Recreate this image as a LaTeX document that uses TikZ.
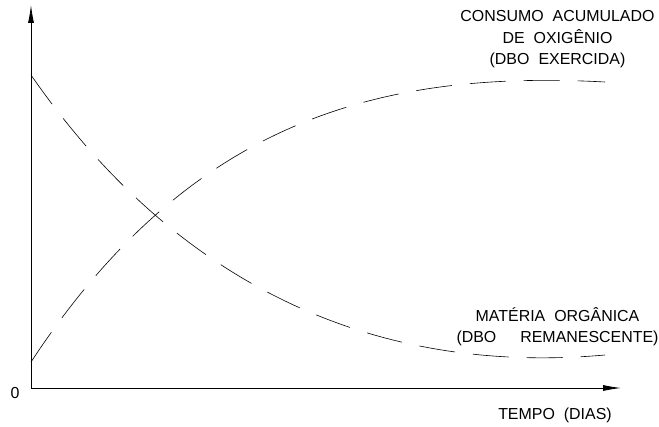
\documentclass[tikz,border=0pt]{standalone}
\usepackage{fontspec}
\setmainfont{Liberation Sans}
\usetikzlibrary{arrows.meta}
\begin{document}
\begin{tikzpicture}[>={Latex[length=18bp,width=6bp]},line join=bevel,
  curva/.style={line width=0.6bp,dash pattern=on 36bp off 18bp},
  eixo/.style={line width=0.8bp,->},
  rotulo/.style={inner sep=0pt,font=\fontsize{16}{21.5}\selectfont,align=center}]
%%
\useasboundingbox (0bp,0bp) rectangle (659bp,427bp);
  \coordinate (O) at (31.0bp,39.0bp);
  \coordinate (Ytop) at (31.0bp,422.0bp);
  \coordinate (Xend) at (621.0bp,39.0bp);
  \coordinate (MOini) at (31.0bp,352.0bp);
  \coordinate (MOfim) at (605.0bp,72.0bp);
  \coordinate (DBOini) at (31.0bp,65.0bp);
  \coordinate (DBOfim) at (605.0bp,345.0bp);
  \node (zero) at (15.0bp,34.0bp) [rotulo] {0};
  \node (DBOex) at (557.5bp,387.5bp) [rotulo] {CONSUMO\hspace{9bp}ACUMULADO\\DE\hspace{9bp}OXIGÊNIO\\(DBO\hspace{9bp}EXERCIDA)};
  \node (MatOrg) at (557.5bp,100.5bp) [rotulo] {MATÉRIA\hspace{9bp}ORGÂNICA\\(DBO\hspace{24bp}REMANESCENTE)};
  \node (tempo) at (555.0bp,12.0bp) [rotulo] {TEMPO\hspace{9bp}(DIAS)};
  \draw [eixo] (O) -- (Ytop);
  \draw [eixo] (O) -- (Xend);
  \draw [curva] (MOini) ..controls (180.0bp,137.0bp) and (380.0bp,52.0bp)  .. (MOfim);
  \draw [curva] (DBOini) ..controls (190.0bp,307.0bp) and (380.0bp,357.0bp)  .. (DBOfim);
%
\end{tikzpicture}
\end{document}
